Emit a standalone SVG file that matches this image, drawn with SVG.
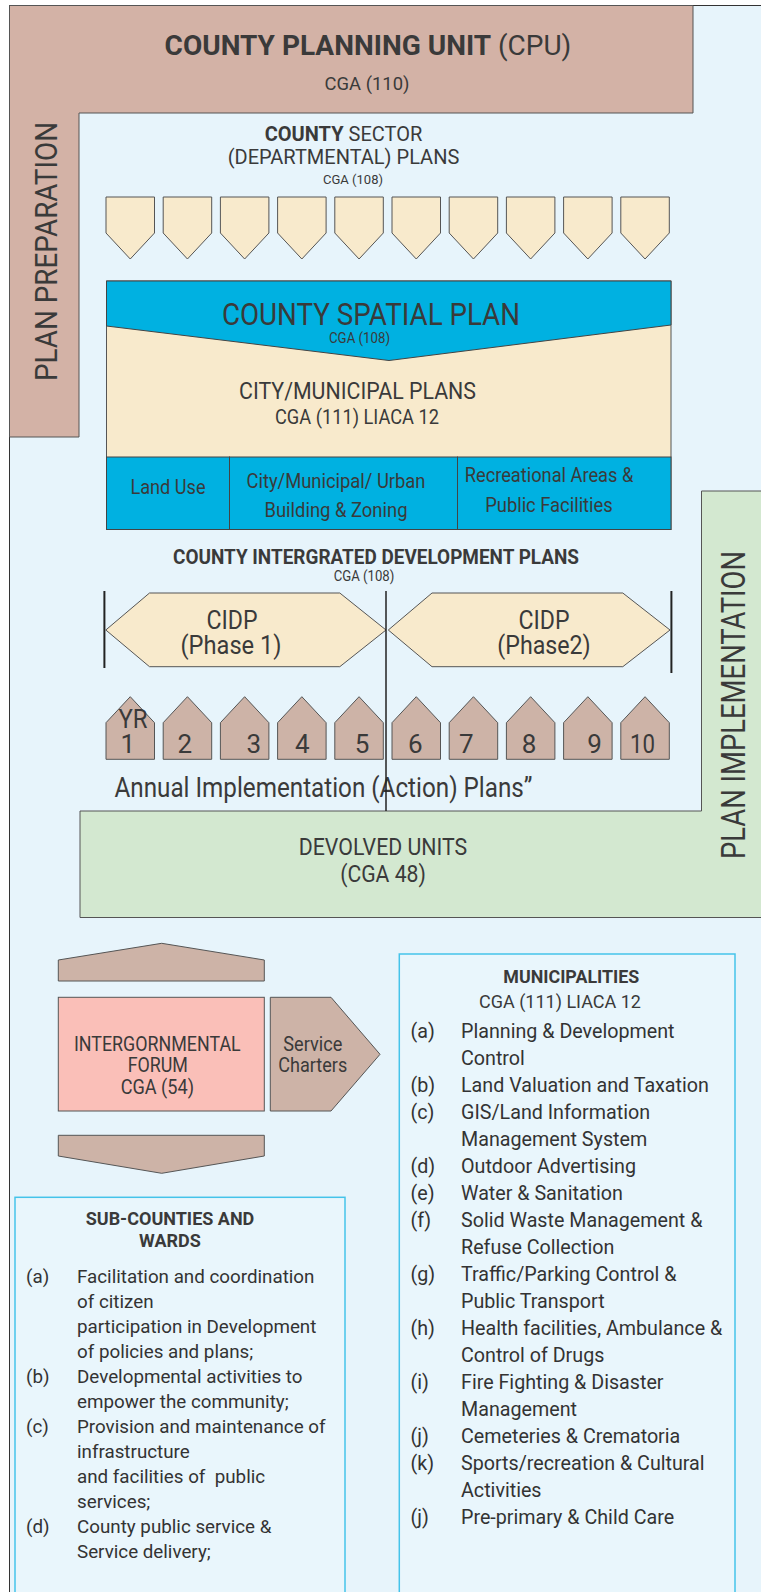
<svg xmlns="http://www.w3.org/2000/svg" xmlns:xlink="http://www.w3.org/1999/xlink" width="761" height="1592" viewBox="0 0 761 1592">
  <style>
    .t { font-family: Roboto, "Liberation Sans", Arial, sans-serif; fill: #3a3a3a; }
    .b { font-weight: bold; }
    .m { text-anchor: middle; }
    .brown { fill: #d3b2a6; stroke: #555; stroke-width: 1; }
    .tan { fill: #cdb3a7; stroke: #555; stroke-width: 1; }
    .cream { fill: #f8eacc; stroke: #555; stroke-width: 1; }
    .blue { fill: #00b1e1; stroke: #444; stroke-width: 1; }
    .green { fill: #d3e8d0; stroke: #555; stroke-width: 1; }
    .pink { fill: #fabfb8; stroke: #555; stroke-width: 1; }
    .panel { fill: #e9f6fc; stroke: #45c3ea; stroke-width: 1.5; }
    .rule { stroke: #222; fill: none; }
    .list { font-family: Roboto, "Liberation Sans", Arial, sans-serif; fill: #333; }
  </style>
  <defs>
    <!-- downward tab used for each sector plan -->
    <polygon id="tab" points="0,0 48.5,0 48.5,36 24.25,62 0,36"/>
    <!-- upward house shape used for each annual plan -->
    <polygon id="house" points="0,62.6 0,26 24.25,0 48.5,26 48.5,62.6"/>
  </defs>

  <!-- background frame -->
  <rect x="9.5" y="5.5" width="760" height="1600" fill="#e7f4fb" stroke="#333" stroke-width="1"/>

  <!-- planning unit L-band -->
  <g id="county-planning-unit">
    <polygon class="brown" points="9.5,5.5 693,5.5 693,113 79,113 79,437 9.5,437"/>
    <text class="t m" x="368" y="55" font-size="28"><tspan class="b">COUNTY PLANNING UNIT</tspan> (CPU)</text>
    <text class="t m" x="367" y="90" font-size="18.4">CGA (110)</text>
    <text class="t m" font-size="32" textLength="259" lengthAdjust="spacingAndGlyphs" transform="translate(57 251.5) rotate(-90)">PLAN PREPARATION</text>
  </g>

  <!-- implementation L-band -->
  <g id="plan-implementation">
    <polygon class="green" points="770,491 701.5,491 701.5,811 80,811 80,917.5 770,917.5"/>
    <text class="t m" font-size="33" textLength="308" lengthAdjust="spacingAndGlyphs" transform="translate(745 705) rotate(-90)">PLAN IMPLEMENTATION</text>
    <text class="t m" font-size="24"><tspan x="383" y="855" textLength="168.5" lengthAdjust="spacingAndGlyphs">DEVOLVED UNITS</tspan><tspan x="383" y="882" textLength="85.7" lengthAdjust="spacingAndGlyphs">(CGA 48)</tspan></text>
  </g>

  <!-- sector plans -->
  <g id="sector-plans">
    <text class="t m" x="343.5" y="141" font-size="20"><tspan class="b">COUNTY</tspan> SECTOR</text>
    <text class="t m" x="343.5" y="164" font-size="20">(DEPARTMENTAL) PLANS</text>
    <text class="t m" x="353" y="183.5" font-size="13.6" textLength="60" lengthAdjust="spacingAndGlyphs">CGA (108)</text>
    <g class="cream">
      <use xlink:href="#tab" x="106" y="197"/>
      <use xlink:href="#tab" x="163.2" y="197"/>
      <use xlink:href="#tab" x="220.4" y="197"/>
      <use xlink:href="#tab" x="277.6" y="197"/>
      <use xlink:href="#tab" x="334.8" y="197"/>
      <use xlink:href="#tab" x="392" y="197"/>
      <use xlink:href="#tab" x="449.2" y="197"/>
      <use xlink:href="#tab" x="506.4" y="197"/>
      <use xlink:href="#tab" x="563.6" y="197"/>
      <use xlink:href="#tab" x="620.8" y="197"/>
    </g>
  </g>

  <!-- spatial plan and city/municipal plans -->
  <g id="spatial-plan">
    <rect class="cream" x="106.5" y="281" width="564.5" height="248.5"/>
    <polygon class="blue" points="106.5,281 671,281 671,325 389,360.5 106.5,326"/>
    <text class="t m" x="371" y="324.5" font-size="30.5" textLength="298" lengthAdjust="spacingAndGlyphs">COUNTY SPATIAL PLAN</text>
    <text class="t m" x="359.5" y="342.5" font-size="14" textLength="61" lengthAdjust="spacingAndGlyphs">CGA (108)</text>
    <text class="t m" x="357.5" y="398.5" font-size="23" textLength="237" lengthAdjust="spacingAndGlyphs">CITY/MUNICIPAL PLANS</text>
    <text class="t m" x="357" y="424" font-size="19.5" textLength="164" lengthAdjust="spacingAndGlyphs">CGA (111) LIACA 12</text>
  </g>
  <g id="land-use">
    <rect class="blue" x="106.5" y="457" width="123" height="72.5"/>
    <text class="t m" x="168" y="494" font-size="20" textLength="75" lengthAdjust="spacingAndGlyphs">Land Use</text>
  </g>
  <g id="building-zoning">
    <rect class="blue" x="229.5" y="457" width="228" height="72.5"/>
    <text class="t m" x="336" y="487.5" font-size="20" textLength="179" lengthAdjust="spacingAndGlyphs">City/Municipal/ Urban</text>
    <text class="t m" x="336" y="516.5" font-size="20" textLength="143" lengthAdjust="spacingAndGlyphs">Building &amp; Zoning</text>
  </g>
  <g id="recreational-areas">
    <rect class="blue" x="457.5" y="457" width="213.5" height="72.5"/>
    <text class="t m" x="549" y="481.5" font-size="20" textLength="168.5" lengthAdjust="spacingAndGlyphs">Recreational Areas &amp;</text>
    <text class="t m" x="549" y="511.5" font-size="20" textLength="127.6" lengthAdjust="spacingAndGlyphs">Public Facilities</text>
  </g>

  <!-- integrated development plans -->
  <g id="cidp-title">
    <text class="t b m" x="376" y="564" font-size="20.5" textLength="406" lengthAdjust="spacingAndGlyphs">COUNTY INTERGRATED DEVELOPMENT PLANS</text>
    <text class="t m" x="364" y="581" font-size="14" textLength="60.7" lengthAdjust="spacingAndGlyphs">CGA (108)</text>
  </g>
  <g id="cidp-phase-1">
    <polygon class="cream" points="105.8,630 149.5,593 339.8,593 386,630 339.8,666.7 149.5,666.7"/>
    <text class="t m" font-size="25.5"><tspan x="232" y="629" textLength="51" lengthAdjust="spacingAndGlyphs">CIDP</tspan><tspan x="231" y="653.5" textLength="101" lengthAdjust="spacingAndGlyphs">(Phase 1)</tspan></text>
  </g>
  <g id="cidp-phase-2">
    <polygon class="cream" points="388.3,630 432,593 622.8,593 670,630 622.8,666.7 432,666.7"/>
    <text class="t m" font-size="25.5"><tspan x="544" y="629" textLength="51" lengthAdjust="spacingAndGlyphs">CIDP</tspan><tspan x="544" y="653.5" textLength="93.4" lengthAdjust="spacingAndGlyphs">(Phase2)</tspan></text>
  </g>

  <!-- annual implementation plans -->
  <g id="annual-plans" class="t" font-size="26">
    <g id="year-1"><use class="tan" xlink:href="#house" x="106" y="696.7"/><text x="118.5" y="728" textLength="29" lengthAdjust="spacingAndGlyphs">YR</text><text x="120.5" y="753.3">1</text></g>
    <g id="year-2"><use class="tan" xlink:href="#house" x="163.2" y="696.7"/><text x="177.5" y="753.3">2</text></g>
    <g id="year-3"><use class="tan" xlink:href="#house" x="220.4" y="696.7"/><text x="246.5" y="753.3">3</text></g>
    <g id="year-4"><use class="tan" xlink:href="#house" x="277.6" y="696.7"/><text x="295" y="753.3">4</text></g>
    <g id="year-5"><use class="tan" xlink:href="#house" x="334.8" y="696.7"/><text x="354.7" y="753.3">5</text></g>
    <g id="year-6"><use class="tan" xlink:href="#house" x="392" y="696.7"/><text x="408" y="753.3">6</text></g>
    <g id="year-7"><use class="tan" xlink:href="#house" x="449.2" y="696.7"/><text x="459" y="753.3">7</text></g>
    <g id="year-8"><use class="tan" xlink:href="#house" x="506.4" y="696.7"/><text x="521.7" y="753.3">8</text></g>
    <g id="year-9"><use class="tan" xlink:href="#house" x="563.6" y="696.7"/><text x="587.2" y="753.3">9</text></g>
    <g id="year-10"><use class="tan" xlink:href="#house" x="620.8" y="696.7"/><text x="630" y="753.3" textLength="25" lengthAdjust="spacingAndGlyphs">10</text></g>
    <text x="114.5" y="797" font-size="27" textLength="418" lengthAdjust="spacingAndGlyphs">Annual Implementation (Action) Plans”</text>
  </g>

  <!-- phase dividers -->
  <g id="connectors" class="rule">
    <line x1="104.4" y1="591" x2="104.4" y2="668" stroke-width="2"/>
    <line x1="386" y1="591" x2="386" y2="811" stroke-width="1.5"/>
    <line x1="671.4" y1="591" x2="671.4" y2="673" stroke-width="2"/>
  </g>

  <!-- intergovernmental forum and its flows -->
  <g id="upward-flow">
    <polygon class="tan" points="58.3,960 161.7,943.3 264.3,960 264.3,981 58.3,981"/>
  </g>
  <g id="intergovernmental-forum">
    <rect class="pink" x="58.3" y="997.3" width="206" height="113.7"/>
    <text class="t m" font-size="19.5"><tspan x="157.3" y="1050.7" textLength="166.7" lengthAdjust="spacingAndGlyphs">INTERGORNMENTAL</tspan><tspan x="157.8" y="1072.2" textLength="60.3" lengthAdjust="spacingAndGlyphs">FORUM</tspan><tspan x="157.3" y="1093.5" textLength="73.3" lengthAdjust="spacingAndGlyphs">CGA (54)</tspan></text>
  </g>
  <g id="service-charters">
    <polygon class="tan" points="270.3,997.3 331,997.3 380,1054.3 331,1111 270.3,1111"/>
    <text class="t m" font-size="20.5"><tspan x="312.8" y="1051" textLength="59" lengthAdjust="spacingAndGlyphs">Service</tspan><tspan x="312.8" y="1072.3" textLength="69" lengthAdjust="spacingAndGlyphs">Charters</tspan></text>
  </g>
  <g id="downward-flow">
    <polygon class="tan" points="58.3,1135.3 264.3,1135.3 264.3,1156 161.7,1173.3 58.3,1156"/>
  </g>

  <!-- municipalities -->
  <g id="municipalities">
    <rect class="panel" x="399.3" y="954" width="335.7" height="660"/>
    <text class="t b m" x="571.3" y="983" font-size="19" textLength="136" lengthAdjust="spacingAndGlyphs">MUNICIPALITIES</text>
    <text class="t m" x="560" y="1008" font-size="18">CGA (111) LIACA 12</text>
    <g class="list" font-size="19.7">
      <text x="410.5" y="1037.5">(a)</text>
      <text x="410.5" y="1091.5">(b)</text>
      <text x="410.5" y="1118.5">(c)</text>
      <text x="410.5" y="1172.5">(d)</text>
      <text x="410.5" y="1199.5">(e)</text>
      <text x="410.5" y="1226.5">(f)</text>
      <text x="410.5" y="1280.5">(g)</text>
      <text x="410.5" y="1334.5">(h)</text>
      <text x="410.5" y="1388.5">(i)</text>
      <text x="410.5" y="1442.5">(j)</text>
      <text x="410.5" y="1469.5">(k)</text>
      <text x="410.5" y="1523.5">(j)</text>
      <text x="461" y="1037.5">Planning &amp; Development</text>
      <text x="461" y="1064.5">Control</text>
      <text x="461" y="1091.5">Land Valuation and Taxation</text>
      <text x="461" y="1118.5">GIS/Land Information</text>
      <text x="461" y="1145.5">Management System</text>
      <text x="461" y="1172.5">Outdoor Advertising</text>
      <text x="461" y="1199.5">Water &amp; Sanitation</text>
      <text x="461" y="1226.5">Solid Waste Management &amp;</text>
      <text x="461" y="1253.5">Refuse Collection</text>
      <text x="461" y="1280.5">Traffic/Parking Control &amp;</text>
      <text x="461" y="1307.5">Public Transport</text>
      <text x="461" y="1334.5">Health facilities, Ambulance &amp;</text>
      <text x="461" y="1361.5">Control of Drugs</text>
      <text x="461" y="1388.5">Fire Fighting &amp; Disaster</text>
      <text x="461" y="1415.5">Management</text>
      <text x="461" y="1442.5">Cemeteries &amp; Crematoria</text>
      <text x="461" y="1469.5">Sports/recreation &amp; Cultural</text>
      <text x="461" y="1496.5">Activities</text>
      <text x="461" y="1523.5">Pre-primary &amp; Child Care</text>
    </g>
  </g>

  <!-- sub-counties and wards -->
  <g id="sub-counties">
    <rect class="panel" x="15" y="1197.3" width="330" height="420"/>
    <text class="t b m" x="170" y="1225" font-size="18">SUB-COUNTIES AND</text>
    <text class="t b m" x="170" y="1247.3" font-size="18">WARDS</text>
    <g class="list" font-size="18.8">
      <text x="26" y="1283">(a)</text>
      <text x="26" y="1383">(b)</text>
      <text x="26" y="1433">(c)</text>
      <text x="26" y="1533">(d)</text>
      <text x="77" y="1283">Facilitation and coordination</text>
      <text x="77" y="1308">of citizen</text>
      <text x="77" y="1333">participation in Development</text>
      <text x="77" y="1358">of policies and plans;</text>
      <text x="77" y="1383">Developmental activities to</text>
      <text x="77" y="1408">empower the community;</text>
      <text x="77" y="1433">Provision and maintenance of</text>
      <text x="77" y="1458">infrastructure</text>
      <text x="77" y="1483">and facilities of&#160; public</text>
      <text x="77" y="1508">services;</text>
      <text x="77" y="1533">County public service &amp;</text>
      <text x="77" y="1558">Service delivery;</text>
    </g>
  </g>
</svg>
